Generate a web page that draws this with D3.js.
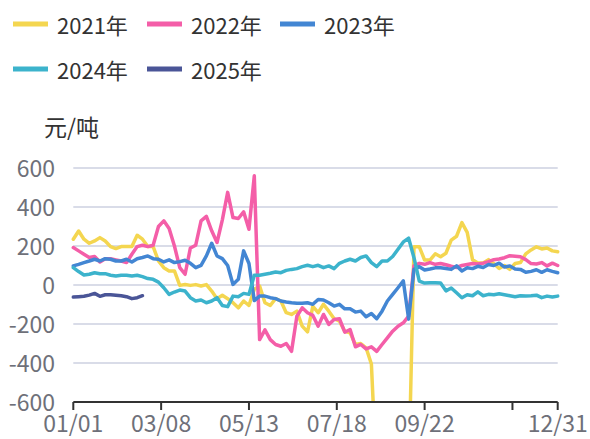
<!DOCTYPE html>
<html><head><meta charset="utf-8">
<script src="https://cdn.jsdelivr.net/npm/d3@7"></script>
<style>body{margin:0;background:#fff}svg{display:block}</style>
</head><body>
<svg id="c" width="590" height="439"></svg>
<script>
// ---- data ----
const seriesNames = ["2021年", "2022年", "2023年", "2024年", "2025年"];
const sampleStep = 4; // days between samples (day index 0 = 01/01)
const tickDays = [0, 66, 132, 198, 264, 330, 364];
const tickLabels = ["01/01", "03/08", "05/13", "07/18", "09/22", "", "12/31"];
const yTicks = [600, 400, 200, 0, -200, -400, -600];
const yUnit = "元/吨";

const v2021 = [235,277,235,214,226,243,226,197,187,197,197,197,255,235,197,197,123,89,72,72,
  -2,3,-2,2,-5,2,-31,-70,-53,-70,-91,-117,-82,-105,-22,-5,-91,-105,-70,-82,
  -142,-151,-134,-211,-240,-110,-142,-99,-134,-173,-185,-237,-245,-305,-300,-322,-405,-1000,-1000,-1000,
  -1000,-1000,-1000,-1000,196,196,128,128,160,145,163,230,250,320,270,130,113,113,130,110,
  85,100,80,110,115,160,180,196,185,190,175,171];
const v2022 = [192,175,158,141,146,118,135,135,129,123,115,158,197,204,197,204,300,329,290,200,
  89,55,190,204,329,352,278,218,334,475,346,341,375,286,560,-280,-230,-280,-305,-314,
  -300,-340,-160,-117,-142,-156,-211,-151,-202,-177,-173,-242,-228,-317,-305,-328,-317,-340,-305,-271,
  -237,-211,-194,-160,98,111,106,115,106,110,104,96,90,100,105,110,108,112,120,130,
  133,140,150,148,145,130,110,108,115,98,112,100];
const v2023 = [98,106,115,123,132,123,135,132,123,123,132,118,135,141,149,135,132,118,129,115,
  120,127,111,89,101,149,214,149,135,100,3,29,175,110,-80,-57,-57,-65,-70,-82,
  -87,-91,-94,-94,-91,-99,-74,-77,-91,-108,-99,-122,-122,-139,-134,-163,-146,-173,-134,-82,
  -48,-14,21,-175,80,94,77,82,88,88,85,80,98,72,88,84,96,90,105,100,
  112,92,98,82,80,65,70,78,65,78,70,63];
const v2024 = [89,69,51,55,63,58,58,50,46,50,50,46,50,43,33,29,15,-14,-48,-36,
  -26,-31,-65,-82,-77,-91,-82,-65,-105,-111,-57,-60,-43,-48,50,50,55,60,67,63,
  75,80,84,94,101,94,101,89,98,84,111,123,132,123,141,149,115,94,123,123,
  146,183,221,240,140,20,10,12,12,10,-30,-15,-40,-65,-50,-55,-35,-55,-48,-50,
  -45,-50,-55,-60,-55,-57,-55,-52,-65,-57,-62,-57];
const v2025 = [-62,-60,-58,-52,-43,-58,-50,-50,-52,-55,-60,-70,-65,-55];

const allSeries = [v2021, v2022, v2023, v2024, v2025];
const colors = ["#f4d650", "#f45ea8", "#4386d3", "#3cb3cc", "#4a5597"];

// ---- chart ----
const svg = d3.select("#c");
const FONT = "'Noto Sans CJK SC','Noto Sans',sans-serif";
const x = d3.scaleLinear().domain([0, 364]).range([73.3, 557.7]);
const y = d3.scaleLinear().domain([-600, 600]).range([402, 168]);

// grid lines
svg.append("g").selectAll("line").data(yTicks.filter(t => t !== -600)).join("line")
  .attr("x1", x(0)).attr("x2", x(364))
  .attr("y1", d => y(d)).attr("y2", d => y(d))
  .attr("stroke", "#d9dce8").attr("stroke-width", 2);

// y labels
svg.append("g").selectAll("text").data(yTicks).join("text")
  .attr("x", 55).attr("y", d => y(d) - 1)
  .attr("text-anchor", "end").attr("dominant-baseline", "central")
  .attr("font-family", FONT).attr("font-size", 23).attr("fill", "#6e7079")
  .text(d => d);

// unit
svg.append("text").attr("x", 44).attr("y", 126)
  .attr("dominant-baseline", "central")
  .attr("font-family", FONT).attr("font-size", 23).attr("fill", "#333")
  .text(yUnit);

// clip
svg.append("defs").append("clipPath").attr("id", "clip")
  .append("rect").attr("x", x(0) - 5).attr("y", 0).attr("width", x(364) - x(0) + 10).attr("height", y(-600));

const line = d3.line()
  .x((d, i) => x(Math.min(i * sampleStep, 364)))
  .y(d => y(d));

svg.append("g").attr("clip-path", "url(#clip)")
  .selectAll("path").data(allSeries).join("path")
  .attr("d", d => line(d))
  .attr("fill", "none")
  .attr("stroke", (d, i) => colors[i])
  .attr("stroke-width", 3.5)
  .attr("stroke-linejoin", "round")
  .attr("stroke-linecap", "round");

// x axis
svg.append("line").attr("x1", x(0)).attr("x2", x(364))
  .attr("y1", y(-600)).attr("y2", y(-600))
  .attr("stroke", "#333").attr("stroke-width", 2);
svg.append("g").selectAll("line").data(tickDays).join("line")
  .attr("x1", d => x(d)).attr("x2", d => x(d))
  .attr("y1", y(-600)).attr("y2", y(-600) + 8)
  .attr("stroke", "#333").attr("stroke-width", 2);
svg.append("g").selectAll("text").data(tickDays).join("text")
  .attr("x", d => x(d)).attr("y", 432)
  .attr("text-anchor", "middle")
  .attr("font-family", FONT).attr("font-size", 23).attr("fill", "#6e7079")
  .text((d, i) => tickLabels[i]);

// legend
const legPos = [[13, 24], [147, 24], [280, 24], [13, 69], [147, 69]];
const leg = svg.append("g").selectAll("g").data(seriesNames).join("g")
  .attr("transform", (d, i) => `translate(${legPos[i][0]},${legPos[i][1]})`);
leg.append("line").attr("x1", 0).attr("x2", 35).attr("y1", 0).attr("y2", 0)
  .attr("stroke", (d, i) => colors[i]).attr("stroke-width", 5);
leg.append("text").attr("x", 44).attr("y", 0).attr("dominant-baseline", "central")
  .attr("font-family", FONT).attr("font-size", 22).attr("fill", "#333")
  .text(d => d);
</script>
</body></html>
